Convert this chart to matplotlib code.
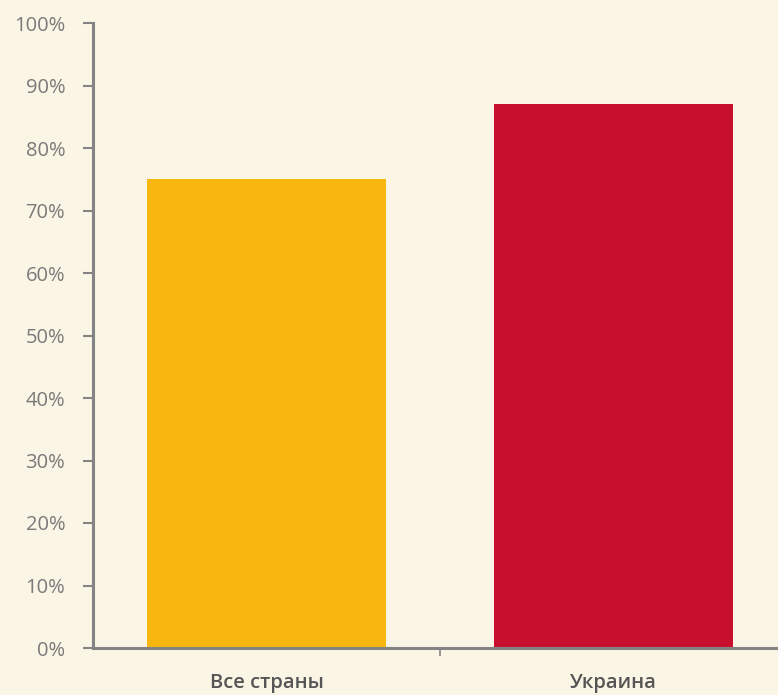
import matplotlib
matplotlib.use("Agg")
import matplotlib.pyplot as plt
from matplotlib.ticker import FuncFormatter, FixedLocator

categories = ["Все страны", "Украина"]
values = [75, 87]
colors = ["#F8B70F", "#C8102E"]

BG = "#FBF5E5"
AXIS = "#838383"

plt.rcParams['font.family'] = ['Open Sans', 'DejaVu Sans']

fig = plt.figure(figsize=(7.78, 6.95), dpi=100, facecolor=BG)
ax = fig.add_axes([93 / 778, 47 / 695, 694 / 778, 625 / 695])
ax.set_facecolor(BG)

x = range(len(categories))
ax.bar(x, values, width=0.69, color=colors, zorder=2)

ax.set_xlim(-0.5, len(categories) - 0.5)
ax.set_ylim(0, 100)

ax.yaxis.set_major_locator(FixedLocator(range(0, 101, 10)))
ax.yaxis.set_major_formatter(FuncFormatter(lambda v, p: f"{int(v)}%"))
ax.tick_params(axis='y', colors=AXIS, labelcolor="#7a7a7a", labelsize=14.5,
               length=7, width=1.5, direction='out', pad=13)

ax.set_xticks(list(x))
ax.set_xticklabels(categories, fontsize=14.5, fontweight='semibold', color="#555555")
ax.tick_params(axis='x', length=0, pad=18)
ax.set_xticks([0.5], minor=True)
ax.tick_params(axis='x', which='minor', colors=AXIS, length=6, width=1.2, direction='out')

for side in ['top', 'right']:
    ax.spines[side].set_visible(False)
for side in ['left', 'bottom']:
    ax.spines[side].set_color(AXIS)
    ax.spines[side].set_linewidth(2.2)
    ax.spines[side].set_zorder(3)

fig.savefig("out.png", dpi=100, facecolor=BG)
